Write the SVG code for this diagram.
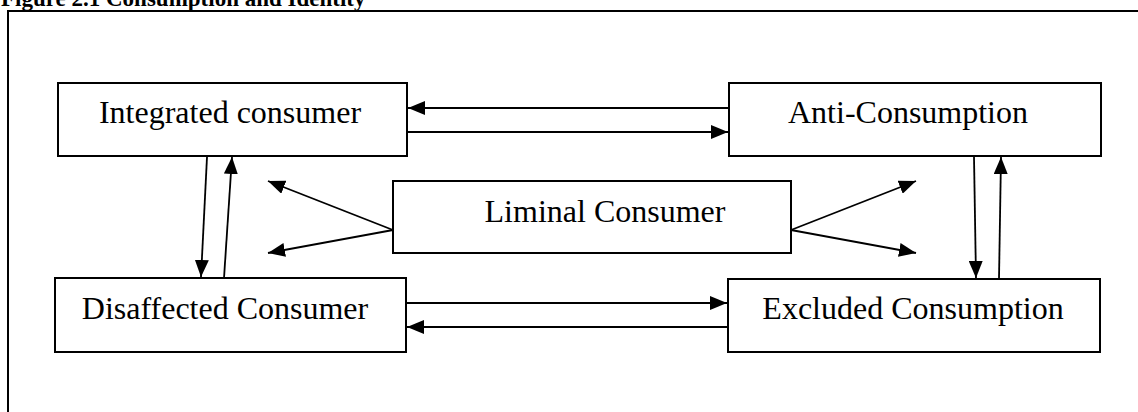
<svg xmlns="http://www.w3.org/2000/svg" width="1138" height="412" viewBox="0 0 1138 412">
<style>
.box{fill:#fff;stroke:#000;stroke-width:2}
.lbl{font-family:"Liberation Serif","Times New Roman",serif;font-size:32px;fill:#000;text-anchor:middle}
.ttl{font-family:"Liberation Serif","Times New Roman",serif;font-size:23px;font-weight:bold;fill:#000}
.con{stroke:#000;stroke-width:1.8;fill:none}
</style>
<defs>
<marker id="ah" markerUnits="userSpaceOnUse" markerWidth="18" markerHeight="14" refX="17" refY="7" orient="auto">
<path d="M0,0 L17,7 L0,14 z" fill="#000"/>
</marker>
</defs>
<rect width="1138" height="412" fill="#fff"/>
<text class="ttl" x="1" y="6">Figure 2.1 Consumption and Identity</text>
<path d="M8,412 L8,11 L1138,11" fill="none" stroke="#000" stroke-width="2"/>
<g id="integrated">
<rect class="box" x="58" y="83" width="349" height="73"/>
<text class="lbl" x="230" y="123">Integrated consumer</text>
</g>
<g id="anti">
<rect class="box" x="729" y="83" width="372" height="73"/>
<text class="lbl" x="908" y="123">Anti-Consumption</text>
</g>
<g id="liminal">
<rect class="box" x="393" y="181" width="398" height="72"/>
<text class="lbl" x="605" y="222">Liminal Consumer</text>
</g>
<g id="disaffected">
<rect class="box" x="55" y="278" width="351" height="74"/>
<text class="lbl" x="225" y="319">Disaffected Consumer</text>
</g>
<g id="excluded">
<rect class="box" x="728" y="279" width="372" height="73"/>
<text class="lbl" x="913" y="319">Excluded Consumption</text>
</g>
<g id="connectors">
<line class="con" x1="728" y1="108" x2="408" y2="108" marker-end="url(#ah)"/>
<line class="con" x1="407" y1="132" x2="728" y2="132" marker-end="url(#ah)"/>
<line class="con" x1="406" y1="303" x2="727" y2="303" marker-end="url(#ah)"/>
<line class="con" x1="727" y1="327" x2="407" y2="327" marker-end="url(#ah)"/>
<line class="con" x1="207" y1="157" x2="201" y2="277" marker-end="url(#ah)"/>
<line class="con" x1="224" y1="278" x2="232" y2="157" marker-end="url(#ah)"/>
<line class="con" x1="974" y1="157" x2="976" y2="278" marker-end="url(#ah)"/>
<line class="con" x1="999" y1="279" x2="1001" y2="157" marker-end="url(#ah)"/>
<line class="con" x1="393" y1="230" x2="268" y2="181" marker-end="url(#ah)"/>
<line class="con" x1="393" y1="230" x2="268" y2="253" marker-end="url(#ah)"/>
<line class="con" x1="791" y1="230" x2="916" y2="181" marker-end="url(#ah)"/>
<line class="con" x1="791" y1="230" x2="916" y2="253" marker-end="url(#ah)"/>
</g>
</svg>
